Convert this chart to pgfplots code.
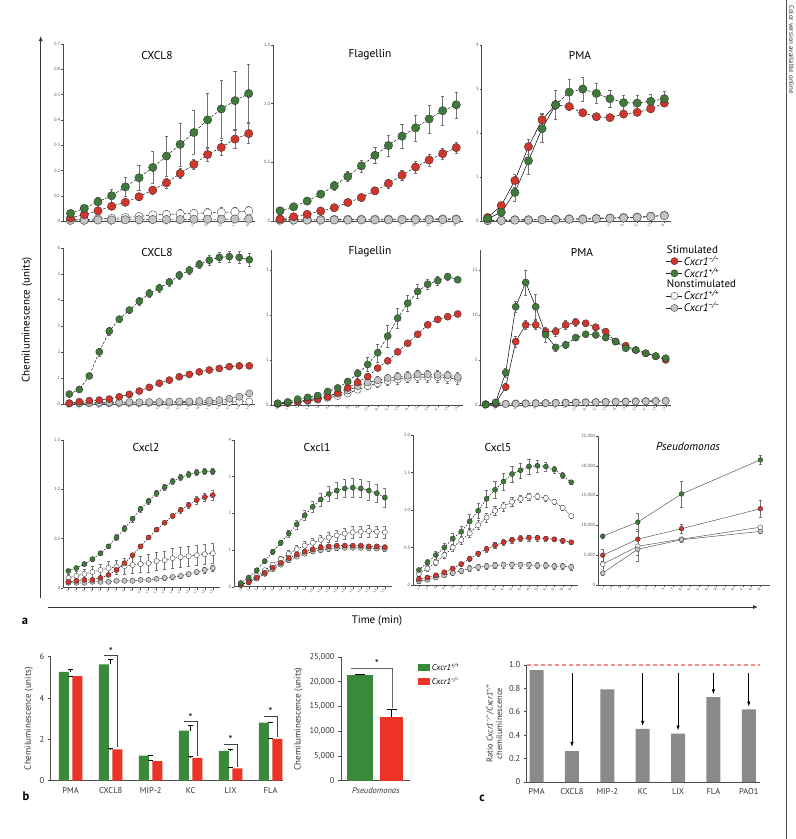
\documentclass[border=0pt]{standalone}
\usepackage{fontspec}
\setmainfont{PT Sans}
\usepackage{pgfplots}
\usepackage{pgfplotstable}
\pgfplotsset{compat=1.18}
\usetikzlibrary{arrows.meta}
\definecolor{mg}{HTML}{3F7A3B}
\definecolor{mr}{HTML}{D2352C}
\definecolor{mk}{HTML}{C4C4C4}
\definecolor{bg}{HTML}{3A8A3C}
\definecolor{br}{HTML}{EC3326}
\definecolor{cg}{HTML}{8A8A8A}
\definecolor{dl}{HTML}{F08C8C}
\tikzset{dsh/.style={dash pattern=on 2.6bp off 1.6bp},dsh3/.style={dash pattern=on 1.6bp off 1.2bp},
 tt/.style={font=\fontsize{11.5}{13}\selectfont}}

% ---------- row 1 ----------
\pgfplotstableread{
x g ge r re w we k ke
1 0.030 0.008 0.012 0.005 0.005 0.005 0.003 0.002
2 0.050 0.012 0.025 0.008 0.006 0.006 0.003 0.002
3 0.076 0.020 0.040 0.010 0.008 0.008 0.004 0.002
4 0.100 0.025 0.058 0.012 0.010 0.010 0.004 0.002
5 0.135 0.038 0.074 0.012 0.014 0.012 0.005 0.003
6 0.171 0.050 0.096 0.015 0.018 0.014 0.005 0.003
7 0.212 0.064 0.122 0.015 0.024 0.016 0.006 0.003
8 0.257 0.080 0.151 0.020 0.026 0.016 0.006 0.003
9 0.303 0.085 0.188 0.020 0.028 0.018 0.006 0.003
10 0.350 0.087 0.224 0.020 0.030 0.018 0.007 0.003
11 0.400 0.107 0.263 0.025 0.032 0.018 0.007 0.004
12 0.443 0.115 0.291 0.030 0.034 0.020 0.007 0.004
13 0.476 0.115 0.324 0.035 0.036 0.020 0.008 0.004
14 0.504 0.115 0.346 0.040 0.040 0.020 0.008 0.004
}\tAa
\pgfplotstableread{
x g ge r re w we k ke
1 0.087 0.010 0.017 0.005 0.012 0.008 0.008 0.004
2 0.121 0.015 0.036 0.008 0.012 0.008 0.008 0.004
3 0.170 0.020 0.057 0.010 0.013 0.008 0.008 0.004
4 0.229 0.025 0.085 0.015 0.013 0.008 0.009 0.004
5 0.300 0.035 0.113 0.020 0.014 0.009 0.009 0.004
6 0.380 0.040 0.158 0.025 0.014 0.009 0.009 0.004
7 0.470 0.050 0.200 0.030 0.015 0.010 0.010 0.005
8 0.560 0.070 0.257 0.030 0.015 0.010 0.010 0.005
9 0.644 0.090 0.320 0.040 0.016 0.010 0.010 0.005
10 0.723 0.100 0.390 0.045 0.016 0.010 0.011 0.005
11 0.794 0.110 0.460 0.050 0.017 0.011 0.011 0.005
12 0.870 0.120 0.520 0.050 0.017 0.011 0.011 0.005
13 0.940 0.120 0.574 0.050 0.018 0.012 0.012 0.005
14 0.990 0.110 0.625 0.050 0.018 0.012 0.012 0.005
}\tAb
\pgfplotstableread{
x g ge r re w we k ke
1 0.05 0.03 0.08 0.03 0.02 0.01 0.01 0.01
2 0.20 0.10 0.35 0.08 0.02 0.01 0.01 0.01
3 0.65 0.20 0.92 0.15 0.03 0.01 0.02 0.01
4 1.37 0.30 1.69 0.17 0.03 0.01 0.02 0.01
5 2.10 0.32 2.30 0.15 0.04 0.01 0.03 0.01
6 2.64 0.33 2.64 0.10 0.04 0.02 0.03 0.01
7 2.93 0.30 2.60 0.05 0.05 0.02 0.04 0.01
8 3.00 0.27 2.46 0.03 0.05 0.02 0.04 0.01
9 2.90 0.23 2.37 0.03 0.06 0.02 0.05 0.01
10 2.78 0.20 2.35 0.03 0.07 0.02 0.06 0.01
11 2.69 0.18 2.43 0.03 0.08 0.03 0.07 0.02
12 2.68 0.17 2.47 0.05 0.09 0.03 0.08 0.02
13 2.72 0.16 2.55 0.05 0.11 0.03 0.10 0.02
14 2.78 0.17 2.68 0.05 0.13 0.04 0.12 0.02
}\tAc
% ---------- row 2 ----------
\pgfplotstableread{
x g ge r re w we k ke
1 0.38 0.05 0.03 0.02 0.02 0.02 0.03 0.01
2 0.56 0.06 0.09 0.02 0.02 0.02 0.04 0.01
3 1.08 0.10 0.13 0.02 0.03 0.02 0.05 0.01
4 2.01 0.15 0.15 0.03 0.03 0.02 0.05 0.01
5 2.81 0.15 0.19 0.03 0.03 0.02 0.06 0.01
6 3.27 0.12 0.28 0.03 0.04 0.02 0.06 0.01
7 3.62 0.12 0.37 0.04 0.04 0.02 0.07 0.02
8 3.96 0.15 0.50 0.04 0.04 0.02 0.07 0.02
9 4.26 0.15 0.64 0.05 0.05 0.03 0.08 0.02
10 4.47 0.15 0.80 0.06 0.05 0.03 0.08 0.02
11 4.70 0.15 0.92 0.07 0.05 0.03 0.09 0.02
12 4.96 0.15 1.05 0.08 0.06 0.03 0.10 0.02
13 5.15 0.15 1.14 0.08 0.06 0.03 0.10 0.02
14 5.38 0.15 1.24 0.08 0.06 0.03 0.12 0.03
15 5.54 0.18 1.31 0.08 0.07 0.03 0.13 0.03
16 5.65 0.20 1.37 0.08 0.07 0.04 0.15 0.03
17 5.68 0.22 1.44 0.08 0.08 0.04 0.20 0.04
18 5.65 0.22 1.47 0.08 0.09 0.04 0.28 0.05
19 5.56 0.25 1.47 0.08 0.10 0.05 0.41 0.06
}\tBa
\pgfplotstableread{
x g ge r re w we k ke
1 0.04 0.02 0.03 0.02 0.02 0.02 0.03 0.02
2 0.07 0.02 0.05 0.02 0.04 0.02 0.05 0.02
3 0.13 0.02 0.08 0.02 0.06 0.03 0.08 0.03
4 0.17 0.02 0.10 0.02 0.09 0.03 0.12 0.03
5 0.21 0.02 0.13 0.02 0.12 0.04 0.16 0.04
6 0.30 0.04 0.18 0.02 0.16 0.04 0.20 0.04
7 0.38 0.05 0.27 0.03 0.20 0.05 0.25 0.05
8 0.52 0.07 0.38 0.03 0.26 0.05 0.32 0.05
9 0.70 0.10 0.50 0.04 0.34 0.06 0.42 0.06
10 0.90 0.15 0.63 0.04 0.42 0.07 0.50 0.07
11 1.16 0.20 0.82 0.05 0.48 0.08 0.55 0.08
12 1.53 0.25 0.98 0.05 0.53 0.09 0.60 0.09
13 1.93 0.22 1.18 0.05 0.57 0.10 0.63 0.10
14 2.26 0.18 1.37 0.05 0.60 0.10 0.65 0.10
15 2.52 0.15 1.57 0.05 0.62 0.11 0.68 0.10
16 2.68 0.12 1.78 0.04 0.62 0.11 0.68 0.10
17 2.76 0.10 1.90 0.04 0.62 0.11 0.67 0.10
18 2.85 0.08 1.96 0.04 0.60 0.11 0.66 0.10
19 2.78 0.05 2.02 0.04 0.58 0.11 0.62 0.10
}\tBb
\pgfplotstableread{
x g ge r re w we k ke
1 0.05 0.05 0.05 0.05 0.10 0.05 0.08 0.05
2 0.30 0.20 0.20 0.20 0.12 0.08 0.10 0.05
3 3.60 0.50 2.00 0.40 0.15 0.10 0.12 0.05
4 10.90 0.60 7.04 0.60 0.18 0.10 0.14 0.05
5 13.60 1.40 8.89 0.50 0.20 0.10 0.16 0.05
6 10.90 1.40 8.89 0.50 0.22 0.12 0.18 0.06
7 7.80 0.80 8.15 0.50 0.24 0.12 0.20 0.06
8 6.40 0.40 8.15 0.50 0.26 0.12 0.22 0.06
9 6.67 0.40 8.89 0.50 0.28 0.14 0.24 0.06
10 7.48 0.30 9.19 0.40 0.30 0.14 0.26 0.07
11 7.85 0.20 9.07 0.30 0.32 0.14 0.28 0.07
12 7.78 0.20 8.63 0.30 0.34 0.16 0.30 0.07
13 7.48 0.20 8.15 0.30 0.36 0.16 0.32 0.07
14 7.04 0.20 7.04 0.20 0.38 0.16 0.34 0.08
15 6.30 0.20 6.59 0.20 0.40 0.18 0.36 0.08
16 6.10 0.20 6.10 0.20 0.42 0.18 0.38 0.08
17 5.74 0.20 5.74 0.20 0.44 0.18 0.40 0.08
18 5.44 0.20 5.40 0.20 0.46 0.20 0.42 0.08
19 5.19 0.20 5.00 0.20 0.48 0.20 0.44 0.08
}\tBc
% ---------- row 3 ----------
\pgfplotstableread{
x g ge r re w we k ke
1 0.17 0.01 0.06 0.01 0.10 0.04 0.05 0.01
2 0.20 0.01 0.07 0.01 0.12 0.05 0.05 0.01
3 0.24 0.01 0.08 0.01 0.14 0.05 0.05 0.01
4 0.29 0.02 0.08 0.01 0.16 0.06 0.06 0.01
5 0.35 0.02 0.10 0.01 0.18 0.06 0.06 0.01
6 0.42 0.02 0.13 0.01 0.20 0.07 0.06 0.01
7 0.51 0.03 0.18 0.01 0.21 0.07 0.07 0.01
8 0.60 0.03 0.25 0.01 0.22 0.08 0.07 0.01
9 0.70 0.03 0.33 0.01 0.23 0.08 0.07 0.01
10 0.80 0.03 0.42 0.02 0.24 0.08 0.08 0.01
11 0.88 0.03 0.51 0.02 0.25 0.09 0.08 0.01
12 0.96 0.03 0.59 0.02 0.27 0.09 0.09 0.01
13 1.02 0.03 0.66 0.02 0.28 0.09 0.10 0.02
14 1.08 0.03 0.73 0.02 0.30 0.10 0.11 0.02
15 1.12 0.03 0.79 0.03 0.31 0.10 0.12 0.02
16 1.15 0.03 0.84 0.03 0.32 0.10 0.14 0.02
17 1.17 0.03 0.89 0.04 0.33 0.10 0.16 0.02
18 1.18 0.03 0.92 0.04 0.34 0.10 0.18 0.03
19 1.18 0.03 0.94 0.05 0.35 0.10 0.20 0.03
}\tCa
\pgfplotstableread{
x g ge r re w we k ke
1 0.10 0.03 0.05 0.02 0.05 0.03 0.05 0.02
2 0.25 0.04 0.12 0.03 0.15 0.04 0.12 0.03
3 0.45 0.05 0.25 0.03 0.30 0.05 0.22 0.03
4 0.70 0.06 0.38 0.04 0.45 0.06 0.35 0.04
5 0.95 0.07 0.52 0.04 0.60 0.07 0.48 0.04
6 1.20 0.08 0.65 0.04 0.75 0.08 0.60 0.04
7 1.45 0.10 0.78 0.05 0.90 0.09 0.72 0.05
8 1.70 0.12 0.88 0.05 1.02 0.10 0.82 0.05
9 1.95 0.14 0.96 0.05 1.12 0.11 0.90 0.05
10 2.18 0.16 1.02 0.05 1.20 0.12 0.96 0.05
11 2.38 0.18 1.07 0.05 1.28 0.13 1.00 0.05
12 2.53 0.20 1.10 0.05 1.34 0.14 1.03 0.05
13 2.62 0.22 1.12 0.05 1.40 0.15 1.05 0.05
14 2.68 0.24 1.12 0.05 1.45 0.15 1.06 0.05
15 2.70 0.25 1.12 0.05 1.48 0.16 1.06 0.05
16 2.68 0.25 1.12 0.05 1.50 0.16 1.06 0.05
17 2.62 0.25 1.10 0.05 1.52 0.16 1.05 0.05
18 2.55 0.25 1.10 0.05 1.50 0.16 1.04 0.05
19 2.43 0.25 1.08 0.05 1.48 0.16 1.03 0.05
}\tCb
\pgfplotstableread{
x g ge r re w we k ke
1 0.20 0.03 0.08 0.02 0.15 0.03 0.05 0.02
2 0.30 0.04 0.10 0.02 0.22 0.03 0.07 0.02
3 0.40 0.05 0.13 0.02 0.30 0.04 0.10 0.02
4 0.50 0.06 0.17 0.02 0.40 0.04 0.13 0.03
5 0.62 0.07 0.22 0.03 0.50 0.05 0.16 0.03
6 0.71 0.08 0.28 0.03 0.60 0.05 0.19 0.03
7 0.85 0.09 0.35 0.03 0.69 0.05 0.22 0.04
8 0.99 0.10 0.42 0.03 0.80 0.06 0.24 0.04
9 1.15 0.11 0.48 0.04 0.90 0.06 0.25 0.04
10 1.27 0.11 0.53 0.04 0.99 0.06 0.26 0.04
11 1.38 0.11 0.57 0.04 1.05 0.06 0.27 0.04
12 1.48 0.11 0.60 0.04 1.11 0.06 0.27 0.04
13 1.53 0.10 0.62 0.04 1.15 0.05 0.27 0.04
14 1.58 0.10 0.63 0.04 1.18 0.05 0.27 0.04
15 1.59 0.08 0.63 0.04 1.18 0.04 0.26 0.04
16 1.58 0.06 0.62 0.03 1.16 0.04 0.26 0.04
17 1.54 0.05 0.61 0.03 1.11 0.03 0.25 0.04
18 1.46 0.04 0.59 0.03 1.03 0.03 0.25 0.04
19 1.37 0.03 0.57 0.03 0.92 0.03 0.24 0.04
}\tCc
\pgfplotstableread{
x g ge r re w we k ke
1 8200 400 5000 1000 3500 1500 2000 300
5 10550 1500 7700 1700 6500 1500 6000 2000
10 15280 2200 9450 700 7700 400 7600 400
19 21000 700 12800 1400 9700 300 9000 300
}\tCd

\pgfplotsset{
 sp/.style={scale only axis, anchor=south west, axis x line*=bottom, axis y line*=left,
   axis line style={black!70, line width=0.6bp},
   tick align=outside, major tick length=1.8bp, tick style={black!70, line width=0.4bp},
   ticklabel style={text=black!65},
   x tick label style={font=\fontsize{3.6}{4}\selectfont, rotate=60, anchor=east, inner sep=0.8bp},
   y tick label style={font=\fontsize{4.6}{5}\selectfont, inner sep=1bp},
   clip=false, scaled ticks=false, /pgf/number format/assume math mode=true},
 bsp/.style={scale only axis, anchor=south west, axis x line*=bottom, axis y line*=left,
   axis line style={black!70, line width=0.9bp},
   tick align=outside, major tick length=3bp, tick style={black!70, line width=0.8bp},
   xtick style={draw=none},
   ticklabel style={font=\fontsize{8.5}{9}\selectfont, text=black!80},
   label style={font=\fontsize{9}{10}\selectfont, text=black!80},
   clip=false, scaled ticks=false, /pgf/number format/assume math mode=true},
 ser/.style n args={3}{black, line width=0.45bp, #3, mark=*, mark size=#2,
   mark options={solid, fill=#1, draw=black!85, line width=0.3bp},
   error bars/y dir=both, error bars/y explicit,
   error bars/error bar style={solid, black!55, line width=0.45bp},
   error bars/error mark options={rotate=90, black!55, mark size=1.6bp, line width=0.45bp, solid}},
}
\newcommand\four[3]{%
  \addplot[ser={white}{#2}{#3}] table[x=x,y=w,y error=we]{#1};
  \addplot[ser={mk}{#2}{#3}] table[x=x,y=k,y error=ke]{#1};
  \addplot[ser={mr}{#2}{#3}] table[x=x,y=r,y error=re]{#1};
  \addplot[ser={mg}{#2}{#3}] table[x=x,y=g,y error=ge]{#1};
}

\begin{document}
\begin{tikzpicture}[x=1bp,y=-1bp]
\path[use as bounding box] (0,0) rectangle (796,839);

% ===== row 1 =====
\begin{axis}[sp, at={(63bp,-221bp)}, width=192bp, height=177bp, xmin=0.45, xmax=14.46, ymin=0, ymax=0.7,
  xtick={1,...,14}, ytick={0,0.1,0.2,0.3,0.4,0.5,0.6,0.7}]
\four{\tAa}{4.2bp}{dsh}
\end{axis}
\begin{axis}[sp, at={(273bp,-221bp)}, width=190bp, height=176bp, xmin=0.48, xmax=14.5, ymin=0, ymax=1.5,
  xtick={1,...,14}, ytick={0,0.5,1,1.5}, yticklabels={0,0.5,1.0,1.5}]
\four{\tAb}{4.2bp}{dsh}
\end{axis}
\begin{axis}[sp, at={(481.7bp,-221bp)}, width=189bp, height=176bp, xmin=0.56, xmax=14.47, ymin=0, ymax=4,
  xtick={1,...,14}, ytick={0,1,2,3,4}]
\addplot[ser={white}{4.2bp}{dsh}] table[x=x,y=w,y error=we]{\tAc};
\addplot[ser={mk}{4.2bp}{dsh}] table[x=x,y=k,y error=ke]{\tAc};
\addplot[black, line width=0.5bp, forget plot, restrict x to domain=1:6] table[x=x,y=r]{\tAc};
\addplot[black, line width=0.5bp, dsh, forget plot, restrict x to domain=6:14] table[x=x,y=r]{\tAc};
\addplot[black, line width=0.5bp, forget plot, restrict x to domain=1:6] table[x=x,y=g]{\tAc};
\addplot[black, line width=0.5bp, dsh, forget plot, restrict x to domain=6:14] table[x=x,y=g]{\tAc};
\addplot[ser={mr}{4.2bp}{dsh}, only marks] table[x=x,y=r,y error=re]{\tAc};
\addplot[ser={mg}{4.2bp}{dsh}, only marks] table[x=x,y=g,y error=ge]{\tAc};
\end{axis}
\node[tt] at (157,55) {CXCL8};
\node[tt] at (370,55) {Flagellin};
\node[tt] at (580,55) {PMA};

% ===== row 2 =====
\begin{axis}[sp, at={(63bp,-404bp)}, width=192bp, height=155.7bp, xmin=0.37, xmax=19.57, ymin=0, ymax=6,
  xtick={1,...,19}, ytick={0,1,2,3,4,5,6}]
\four{\tBa}{3.6bp}{dsh}
\end{axis}
\begin{axis}[sp, at={(271.7bp,-405bp)}, width=191bp, height=155bp, xmin=0.4, xmax=19.5, ymin=0, ymax=3.44,
  xtick={1,...,19}, ytick={0,1,2,3}]
\four{\tBb}{3.6bp}{dsh}
\end{axis}
\begin{axis}[sp, at={(480.7bp,-405bp)}, width=190bp, height=155bp, xmin=0.5, xmax=19.5, ymin=0, ymax=17.2,
  xtick={1,...,19}, ytick={0,5,10,15},
  legend style={at={(0.975,1.04)}, anchor=north west, draw=none, fill=none, inner sep=0pt,
    row sep=-1.2bp, nodes={inner sep=1.2bp}, font=\fontsize{11}{12}\selectfont},
  legend cell align=left,
  legend image code/.code={\draw[black!85, line width=0.6bp, solid] (-1bp,0bp) -- (15bp,0bp);
     \draw[#1] plot coordinates {(7bp,0bp)};}]
\addplot[black, line width=0.5bp, forget plot, restrict x to domain=1:6] table[x=x,y=r]{\tBc};
\addplot[black, line width=0.5bp, dsh, forget plot, restrict x to domain=6:19] table[x=x,y=r]{\tBc};
\addplot[black, line width=0.5bp, forget plot, restrict x to domain=1:8] table[x=x,y=g]{\tBc};
\addplot[black, line width=0.5bp, dsh, forget plot, restrict x to domain=8:19] table[x=x,y=g]{\tBc};
\addplot[ser={white}{3.6bp}{dsh}, forget plot] table[x=x,y=w,y error=we]{\tBc};
\addplot[ser={mk}{3.6bp}{dsh}, forget plot] table[x=x,y=k,y error=ke]{\tBc};
\addlegendimage{empty legend}\addlegendentry{\hspace*{-17bp}Stimulated}
\addplot[ser={mr}{3.6bp}{dsh}, only marks] table[x=x,y=r,y error=re]{\tBc};
\addlegendentry{\textit{Cxcr1\textsuperscript{−/−}}}
\addplot[ser={mg}{3.6bp}{dsh}, only marks] table[x=x,y=g,y error=ge]{\tBc};
\addlegendentry{\textit{Cxcr1\textsuperscript{+/+}}}
\addlegendimage{empty legend}\addlegendentry{\hspace*{-17bp}Nonstimulated}
\addlegendimage{only marks, mark=*, mark size=3.6bp, mark options={fill=white, draw=black!85, line width=0.3bp}}
\addlegendentry{\textit{Cxcr1\textsuperscript{+/+}}}
\addlegendimage{only marks, mark=*, mark size=3.6bp, mark options={fill=mk, draw=black!85, line width=0.3bp}}
\addlegendentry{\textit{Cxcr1\textsuperscript{−/−}}}
\end{axis}
\node[tt] at (157,252) {CXCL8};
\node[tt] at (370,252) {Flagellin};
\node[tt] at (582,252) {PMA};

% ===== row 3 =====
\begin{axis}[sp, at={(63bp,-587.7bp)}, width=157bp, height=147.7bp, xmin=0.33, xmax=19.9, ymin=0, ymax=1.5,
  xtick={1,...,19}, ytick={0,0.5,1,1.5}, yticklabels={0,0.5,1.0,1.5}]
\four{\tCa}{2.6bp}{dsh3}
\end{axis}
\begin{axis}[sp, at={(234bp,-586.7bp)}, width=158bp, height=146.7bp, xmin=0.16, xmax=19.9, ymin=0, ymax=4,
  xtick={1,...,19}, ytick={0,1,2,3,4}]
\four{\tCb}{2.6bp}{dsh3}
\end{axis}
\begin{axis}[sp, at={(413bp,-585bp)}, width=165bp, height=150bp, xmin=0.3, xmax=19.8, ymin=0, ymax=2,
  xtick={1,...,19}, ytick={0,0.5,1,1.5,2}, yticklabels={0,0.5,1.0,1.5,2.0}]
\four{\tCc}{2.6bp}{dsh3}
\end{axis}
\begin{axis}[sp, at={(598bp,-585bp)}, width=172bp, height=149bp, xmin=0.46, xmax=20.1, ymin=0, ymax=25000,
  xtick={1,...,19}, ytick={0,5000,10000,15000,20000,25000}, /pgf/number format/1000 sep={,}]
\four{\tCd}{2.4bp}{black!70}
\end{axis}
\node[tt] at (146,447) {Cxcl2};
\node[tt] at (317,447) {Cxcl1};
\node[tt] at (498,447) {Cxcl5};
\node[tt] at (688,447) {\textit{Pseudomonas}};

% ===== big axes of panel a =====
\draw[line width=0.9bp, black!80, -{Latex[length=5bp,width=4bp]}] (40.7,598) -- (40.7,36);
\draw[line width=0.9bp, black!80, -{Latex[length=5bp,width=4bp]}] (48,607) -- (758,607);
\node[rotate=90, font=\fontsize{11}{12}\selectfont] at (27,320) {Chemiluminescence (units)};
\node[font=\fontsize{11}{12}\selectfont] at (377,621) {Time (min)};
\node[font=\bfseries\fontsize{12.5}{13}\selectfont] at (25,621) {a};

% ===== panel b =====
\begin{axis}[bsp, at={(50.7bp,-780.7bp)}, width=232.3bp, height=124bp, xmin=-0.5, xmax=5.31, ymin=0, ymax=6,
  ytick={0,2,4,6}, xtick={0,...,5}, xticklabels={PMA,CXCL8,MIP-2,KC,LIX,FLA},
  ylabel={Chemiluminescence (units)}]
\addplot[ybar, bar width=10bp, bar shift=-6.7bp, fill=bg, draw=none,
  error bars/y dir=plus, error bars/y explicit, error bars/error bar style={black, line width=0.7bp},
  error bars/error mark options={rotate=90, black, mark size=2.5bp, line width=0.7bp}]
  coordinates {(0,5.27) +- (0,0.12) (1,5.63) +- (0,0.22) (2,1.21) +- (0,0.02) (3,2.42) +- (0,0.25) (4,1.44) +- (0,0.06) (5,2.81) +- (0,0.03)};
\addplot[ybar, bar width=10bp, bar shift=6.7bp, fill=br, draw=none,
  error bars/y dir=plus, error bars/y explicit, error bars/error bar style={black, line width=0.7bp},
  error bars/error mark options={rotate=90, black, mark size=2.5bp, line width=0.7bp}]
  coordinates {(0,5.06) +- (0,0.0) (1,1.52) +- (0,0.03) (2,0.95) +- (0,0.03) (3,1.11) +- (0,0.05) (4,0.60) +- (0,0.04) (5,2.02) +- (0,0.04)};
\draw[black!75, line width=0.8bp] (axis cs:0.833,6.05) -- (axis cs:1.167,6.05) -- (axis cs:1.167,1.62);
\draw[black!75, line width=0.8bp] (axis cs:2.833,2.85) -- (axis cs:3.167,2.85) -- (axis cs:3.167,1.2);
\draw[black!75, line width=0.8bp] (axis cs:3.833,1.77) -- (axis cs:4.167,1.77) -- (axis cs:4.167,0.68);
\draw[black!75, line width=0.8bp] (axis cs:4.833,3.13) -- (axis cs:5.167,3.13) -- (axis cs:5.167,2.1);
\node[font=\fontsize{11}{11}\selectfont] at (axis cs:1,6.25) {*};
\node[font=\fontsize{11}{11}\selectfont] at (axis cs:3,3.05) {*};
\node[font=\fontsize{11}{11}\selectfont] at (axis cs:4,1.97) {*};
\node[font=\fontsize{11}{11}\selectfont] at (axis cs:5,3.33) {*};
\end{axis}
\node[font=\bfseries\fontsize{12.5}{13}\selectfont] at (26,796) {b};

\begin{axis}[bsp, at={(341bp,-780.7bp)}, width=69bp, height=123.7bp, xmin=-0.6, xmax=1.58, ymin=0, ymax=25000,
  ytick={0,5000,10000,15000,20000,25000}, /pgf/number format/1000 sep={,},
  xtick={0.5}, xticklabels={\textit{Pseudomonas}},
  ylabel={Chemiluminescence (units)},
  legend style={at={(1.12,0.96)}, anchor=north west, draw=none, fill=none, inner sep=0pt,
    row sep=2bp, nodes={inner sep=1.5bp}, font=\fontsize{8.5}{9}\selectfont},
  legend cell align=left,
  legend image code/.code={\fill[#1] (0bp,-3.5bp) rectangle (12bp,3.5bp);}]
\addplot[ybar, bar width=26bp, fill=bg, draw=none, forget plot,
  error bars/y dir=plus, error bars/y explicit, error bars/error bar style={black, line width=0.7bp},
  error bars/error mark options={rotate=90, black, mark size=5bp, line width=0.7bp}]
  coordinates {(0,21300) +- (0,250)};
\addplot[ybar, bar width=23bp, fill=br, draw=none, forget plot,
  error bars/y dir=plus, error bars/y explicit, error bars/error bar style={black, line width=0.7bp},
  error bars/error mark options={rotate=90, black, mark size=5bp, line width=0.7bp}]
  coordinates {(1,12900) +- (0,1550)};
\draw[black!60, line width=0.8bp] (axis cs:-0.3,22650) -- (axis cs:1.03,22650) -- (axis cs:1.03,14700);
\node[font=\fontsize{11}{11}\selectfont] at (axis cs:0.53,23700) {*};
\addlegendimage{fill=bg, draw=none}\addlegendentry{\textit{Cxcr1\textsuperscript{+/+}}}
\addlegendimage{fill=br, draw=none}\addlegendentry{\textit{Cxcr1\textsuperscript{−/−}}}
\end{axis}

% ===== panel c =====
\begin{axis}[bsp, at={(526.7bp,-782bp)}, width=233bp, height=117bp, xmin=-0.28, xmax=6.31, ymin=0, ymax=1,
  ytick={0,0.2,0.4,0.6,0.8,1}, yticklabels={0,0.2,0.4,0.6,0.8,1.0},
  xtick={0,...,6}, xticklabels={PMA,CXCL8,MIP-2,KC,LIX,FLA,PAO1},
  ylabel={Ratio \textit{Cxcr1\textsuperscript{−/−}}/\textit{Cxcr1\textsuperscript{+/+}}\\chemiluminescence},
  ylabel style={align=center, font=\fontsize{8.5}{9.5}\selectfont}]
\addplot[ybar, bar width=14bp, fill=cg, draw=none]
  coordinates {(0,0.957) (1,0.263) (2,0.791) (3,0.454) (4,0.414) (5,0.726) (6,0.62)};
\addplot[dl, line width=1.1bp, dash pattern=on 4bp off 3bp] coordinates {(-0.28,1) (6.31,1)};
\draw[black, line width=0.8bp, -{Latex[length=5bp,width=3.5bp]}] (axis cs:1,0.93) -- (axis cs:1,0.30);
\draw[black, line width=0.8bp, -{Latex[length=5bp,width=3.5bp]}] (axis cs:3,0.93) -- (axis cs:3,0.48);
\draw[black, line width=0.8bp, -{Latex[length=5bp,width=3.5bp]}] (axis cs:4,0.93) -- (axis cs:4,0.44);
\draw[black, line width=0.8bp, -{Latex[length=5bp,width=3.5bp]}] (axis cs:5,0.93) -- (axis cs:5,0.75);
\draw[black, line width=0.8bp, -{Latex[length=5bp,width=3.5bp]}] (axis cs:6,0.93) -- (axis cs:6,0.645);
\end{axis}
\node[font=\bfseries\fontsize{12.5}{13}\selectfont] at (482,798) {c};

% ===== side note and frame =====
\draw[black!70, line width=0.6bp] (786.5,0) -- (786.5,839);
\node[rotate=-90, anchor=west, font=\fontsize{7}{8}\selectfont, text=black!80] at (791.5,2) {Color version available online};
\end{tikzpicture}
\end{document}
